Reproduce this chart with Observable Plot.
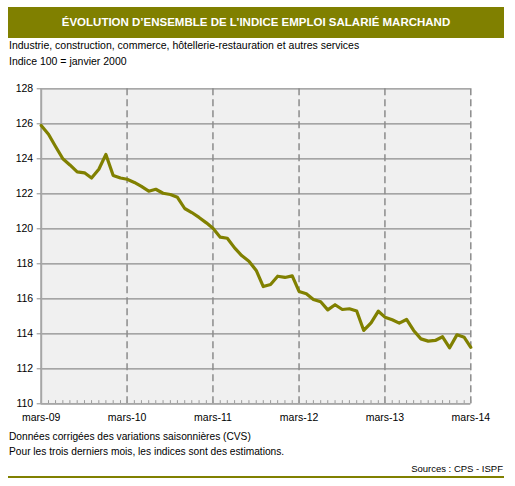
<!DOCTYPE html>
<html>
<head>
<meta charset="utf-8">
<script src="https://cdn.jsdelivr.net/npm/d3@7"></script>
<script src="https://cdn.jsdelivr.net/npm/@observablehq/plot@0.6"></script>
<style>
  html, body { margin: 0; padding: 0; background: #fff; }
  #page { position: relative; width: 515px; height: 486px; font-family: "Liberation Sans", Arial, sans-serif; color: #000; }
  #title { position: absolute; left: 8px; top: 7px; width: 496px; height: 31px; background: #808000; color: #fff;
           font-weight: bold; font-size: 11.5px; line-height: 31px; text-align: center; }
  .txt { position: absolute; left: 9px; font-size: 10.5px; white-space: nowrap; }
  .foot { font-size: 10.2px; }
  #src { position: absolute; right: 12px; top: 463px; font-size: 9.5px; }
  #rule { position: absolute; left: 8px; top: 476px; width: 496px; height: 2px; background: #808000; }
  #chart { position: absolute; left: 0; top: 70px; }
</style>
</head>
<body>
<div id="page">
  <div id="title">ÉVOLUTION D’ENSEMBLE DE L’INDICE EMPLOI SALARIÉ MARCHAND</div>
  <div class="txt" style="top:39px">Industrie, construction, commerce, hôtellerie-restauration et autres services</div>
  <div class="txt" style="top:55px">Indice 100 = janvier 2000</div>
  <div id="chart"></div>
  <div class="txt foot" style="top:431px">Données corrigées des variations saisonnières (CVS)</div>
  <div class="txt foot" style="top:446px">Pour les trois derniers mois, les indices sont des estimations.</div>
  <div id="src">Sources : CPS - ISPF</div>
  <div id="rule"></div>
</div>
<script>
// Monthly index, mars 2009 -> mars 2014
const startMonth = "2009-03";
const values = [
  125.9, 125.4, 124.7, 124.0, 123.65, 123.25, 123.2, 122.9, 123.4, 124.25,
  123.05, 122.9, 122.83, 122.65, 122.42, 122.15, 122.26, 122.03, 121.96, 121.8,
  121.16, 120.93, 120.65, 120.34, 120.03, 119.52, 119.46, 118.91, 118.47, 118.15,
  117.62, 116.7, 116.82, 117.29, 117.22, 117.31, 116.42, 116.29, 115.96, 115.83,
  115.37, 115.66, 115.39, 115.43, 115.3, 114.19, 114.63, 115.29, 114.95, 114.8,
  114.61, 114.82, 114.19, 113.71, 113.58, 113.62, 113.83, 113.2, 113.94, 113.8,
  113.23
];
const yTicks = [110, 112, 114, 116, 118, 120, 122, 124, 126, 128];
const xTickLabels = ["mars-09", "mars-10", "mars-11", "mars-12", "mars-13", "mars-14"];

const start = d3.utcParse("%Y-%m")(startMonth);
const data = values.map((v, i) => ({date: d3.utcMonth.offset(start, i), value: v}));
const months = data.map(d => d.date);
const yearTicks = xTickLabels.map((_, i) => d3.utcMonth.offset(start, 12 * i));
const labelOf = new Map(yearTicks.map((d, i) => [+d, xTickLabels[i]]));

const chart = Plot.plot({
  width: 515,
  height: 360,
  marginLeft: 40.7,
  marginRight: 44.7,
  marginTop: 18.3,
  marginBottom: 26.7,
  style: {fontFamily: "Liberation Sans, Arial, sans-serif", fontSize: "10.5px", color: "#000", background: "transparent"},
  x: {type: "utc", domain: [yearTicks[0], yearTicks[yearTicks.length - 1]]},
  y: {domain: [110, 128]},
  marks: [
    Plot.frame({fill: "#f0f0f0", stroke: null}),
    Plot.ruleY(yTicks, {stroke: "#8c8c8c", strokeWidth: 1.2}),
    Plot.ruleX(yearTicks.slice(1), {y1: 110, y2: 128, stroke: "#8c8c8c", strokeWidth: 1.5, strokeDasharray: "7,4"}),
    Plot.ruleX(months, {y1: 110, y2: 110.18, stroke: "#9a9a9a", strokeWidth: 1}),
    Plot.ruleX([yearTicks[0]], {stroke: "#a6a6a6", strokeWidth: 2}),
    Plot.ruleY([110], {stroke: "#a6a6a6", strokeWidth: 1.5}),
    Plot.axisY({ticks: yTicks, tickSize: 4, tickPadding: 4, stroke: "#8c8c8c", label: null, tickFormat: d => String(d)}),
    Plot.axisX({ticks: yearTicks, tickSize: 0, tickPadding: 10, label: null, tickFormat: d => labelOf.get(+d)}),
    Plot.line(data, {x: "date", y: "value", stroke: "#808000", strokeWidth: 3.2, strokeLinejoin: "round"})
  ]
});
document.getElementById("chart").appendChild(chart);
</script>
</body>
</html>
